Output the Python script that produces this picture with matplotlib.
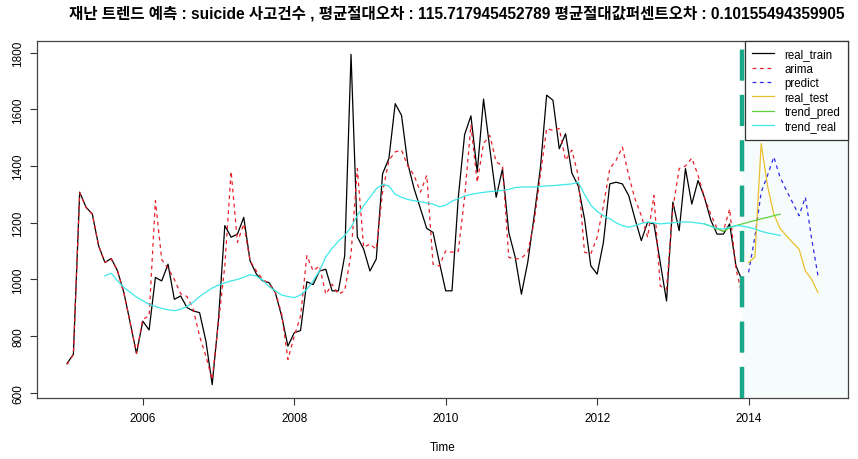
import matplotlib
matplotlib.use('Agg')
import matplotlib.pyplot as plt
import numpy as np

plt.rcParams['font.family'] = ['Liberation Sans', 'Noto Sans CJK KR']

# ---------------- data ----------------
start_year = 2005
real_train = [
    704, 736, 1308, 1255, 1231, 1119, 1060, 1074, 1030, 954, 848, 739,      # 2005
    853, 822, 1007, 995, 1054, 930, 942, 901, 889, 883, 783, 629,          # 2006
    860, 1190, 1149, 1160, 1219, 1066, 1019, 995, 989, 954, 871, 765,      # 2007
    812, 820, 992, 982, 1030, 1036, 960, 960, 1084, 1794, 1150, 1107,     # 2008
    1030, 1072, 1373, 1426, 1620, 1579, 1408, 1320, 1250, 1180, 1166, 1060,  # 2009
    960, 960, 1290, 1511, 1577, 1379, 1636, 1460, 1290, 1390, 1166, 1080,  # 2010
    948, 1060, 1220, 1391, 1650, 1632, 1461, 1514, 1375, 1330, 1214, 1048, # 2011
    1019, 1131, 1337, 1343, 1337, 1296, 1214, 1137, 1202, 1196, 1060, 924, # 2012
    1273, 1172, 1391, 1266, 1349, 1290, 1210, 1160, 1160, 1196, 1048, 995, # 2013
]
arima = [
    700, 735, 1305, 1254, 1230, 1118, 1060, 1073, 1029, 953, 848, 740,
    860, 871, 1278, 1070, 1040, 1000, 950, 940, 895, 800, 730, 647,
    850, 1048, 1381, 1131, 1196, 1066, 1030, 1000, 985, 955, 880, 718,
    800, 870, 1084, 1030, 1048, 948, 983, 948, 960, 1090, 1391, 1113,
    1125, 1107, 1308, 1420, 1450, 1456, 1400, 1367, 1308, 1367, 1054, 1048,
    1101, 1096, 1100, 1290, 1544, 1343, 1480, 1508, 1414, 1402, 1078, 1072,
    1075, 1096, 1200, 1367, 1532, 1526, 1532, 1420, 1456, 1367, 1096, 1090,
    1149, 1260, 1391, 1420, 1467, 1367, 1284, 1225, 1149, 1296, 977, 966,
    1250, 1391, 1400, 1428, 1367, 1290, 1230, 1180, 1170, 1249, 1037, 942,
]
real_test = [1060, 1079, 1479, 1331, 1230, 1180, 1154, 1130, 1107, 1030, 1000, 954]
predict = [1025, 1150, 1308, 1367, 1432, 1360, 1314, 1270, 1225, 1290, 1143, 1013]

# centred trend curves (month index 6 .. 113)
trend_real = [
    1013, 1022, 995, 972, 955, 938, 925, 912, 905, 898, 893, 890,
    895, 905, 920, 940, 955, 970, 980, 988, 995, 1000, 1008, 1017,
    1012, 998, 975, 960, 945, 940, 936, 945, 965, 995, 1030, 1080,
    1110, 1135, 1155, 1185, 1225, 1260, 1290, 1320, 1335, 1330, 1300, 1290,
    1282, 1278, 1274, 1270, 1266, 1256, 1262, 1276, 1285, 1294, 1300, 1304,
    1307, 1310, 1312, 1314, 1318, 1324, 1326, 1326, 1326, 1328, 1330, 1331,
    1333, 1335, 1337, 1343, 1300, 1262, 1240, 1225, 1214, 1200, 1190, 1184,
    1190, 1198, 1202, 1200, 1196, 1198, 1200, 1202, 1203, 1202, 1199, 1196,
    1188, 1180, 1178, 1184, 1190, 1188, 1184, 1178, 1170, 1164, 1160, 1155,
]
trend_pred = [1196, 1188, 1178, 1170, 1182, 1190, 1196, 1202, 1208, 1214, 1219, 1225, 1230]
trend_pred_start = 101
trend_real_start = 6

title = ('재난 트렌드 예측 : suicide 사고건수 , 평균절대오차 : 115.717945452789 '
         '평균절대값퍼센트오차 : 0.10155494359905')

# ---------------- time axes ----------------
n_train = len(real_train)
t_train = start_year + np.arange(n_train) / 12
t_test = start_year + (n_train + np.arange(len(real_test))) / 12
t_trend_real = start_year + (trend_real_start + np.arange(len(trend_real))) / 12
t_trend_pred = start_year + (trend_pred_start + np.arange(len(trend_pred))) / 12
split = t_train[-1]

fig = plt.figure(figsize=(8.58, 4.6), dpi=100)
ax = fig.add_axes([37 / 858, 1 - 399 / 460, 811 / 858, 357 / 460])

x_lo, x_hi = 2004.603, 2015.313
ax.axvspan(split, x_hi, color='#f6fbfb', zorder=0, lw=0)

ax.plot(t_train, real_train, color='black', lw=0.9, label='real_train')
ax.plot(t_train, arima, color='#e8202a', lw=0.9, ls=(0, (3, 3)), label='arima')
ax.plot(t_test, predict, color='#2a2ae6', lw=0.9, ls=(0, (3, 3)), label='predict')
ax.plot(t_test, real_test, color='#ebbf2e', lw=0.9, label='real_test')
ax.plot(t_trend_pred, trend_pred, color='#5ed040', lw=0.9, label='trend_pred')
ax.plot(t_trend_real, trend_real, color='#3ee8e8', lw=0.9, label='trend_real')
ax.axvline(split, color='#1aa88a', lw=3.2, ls=(0, (7, 3.2)), zorder=5)

ax.set_xlim(x_lo, x_hi)
ax.set_ylim(582, 1841)
ax.set_xticks([2006, 2008, 2010, 2012, 2014])
ax.set_yticks(np.arange(600, 1801, 200))
ax.tick_params(axis='both', direction='out', length=5, width=0.8, labelsize=8.5, color='#333333')
ax.tick_params(axis='x', pad=5)
ax.tick_params(axis='y', pad=4)
for lab in ax.get_yticklabels():
    lab.set_rotation(90)
    lab.set_va('center')
for sp in ax.spines.values():
    sp.set_linewidth(0.9)
    sp.set_color('#444444')

ax.set_xlabel('Time', fontsize=8.5, labelpad=12)
fig.text(0.532, 1 - 14 / 460, title, ha='center', va='center', fontsize=11.2, fontweight='bold')

leg = ax.legend(loc='upper right', bbox_to_anchor=(1, 1), borderaxespad=0, fontsize=8.3,
                frameon=True, fancybox=False, edgecolor='#333333', framealpha=1,
                handlelength=1.9, handletextpad=0.9, labelspacing=0.2, borderpad=0.65)
leg.get_frame().set_linewidth(0.9)
leg.set_zorder(10)

fig.savefig('out.png', dpi=100)
